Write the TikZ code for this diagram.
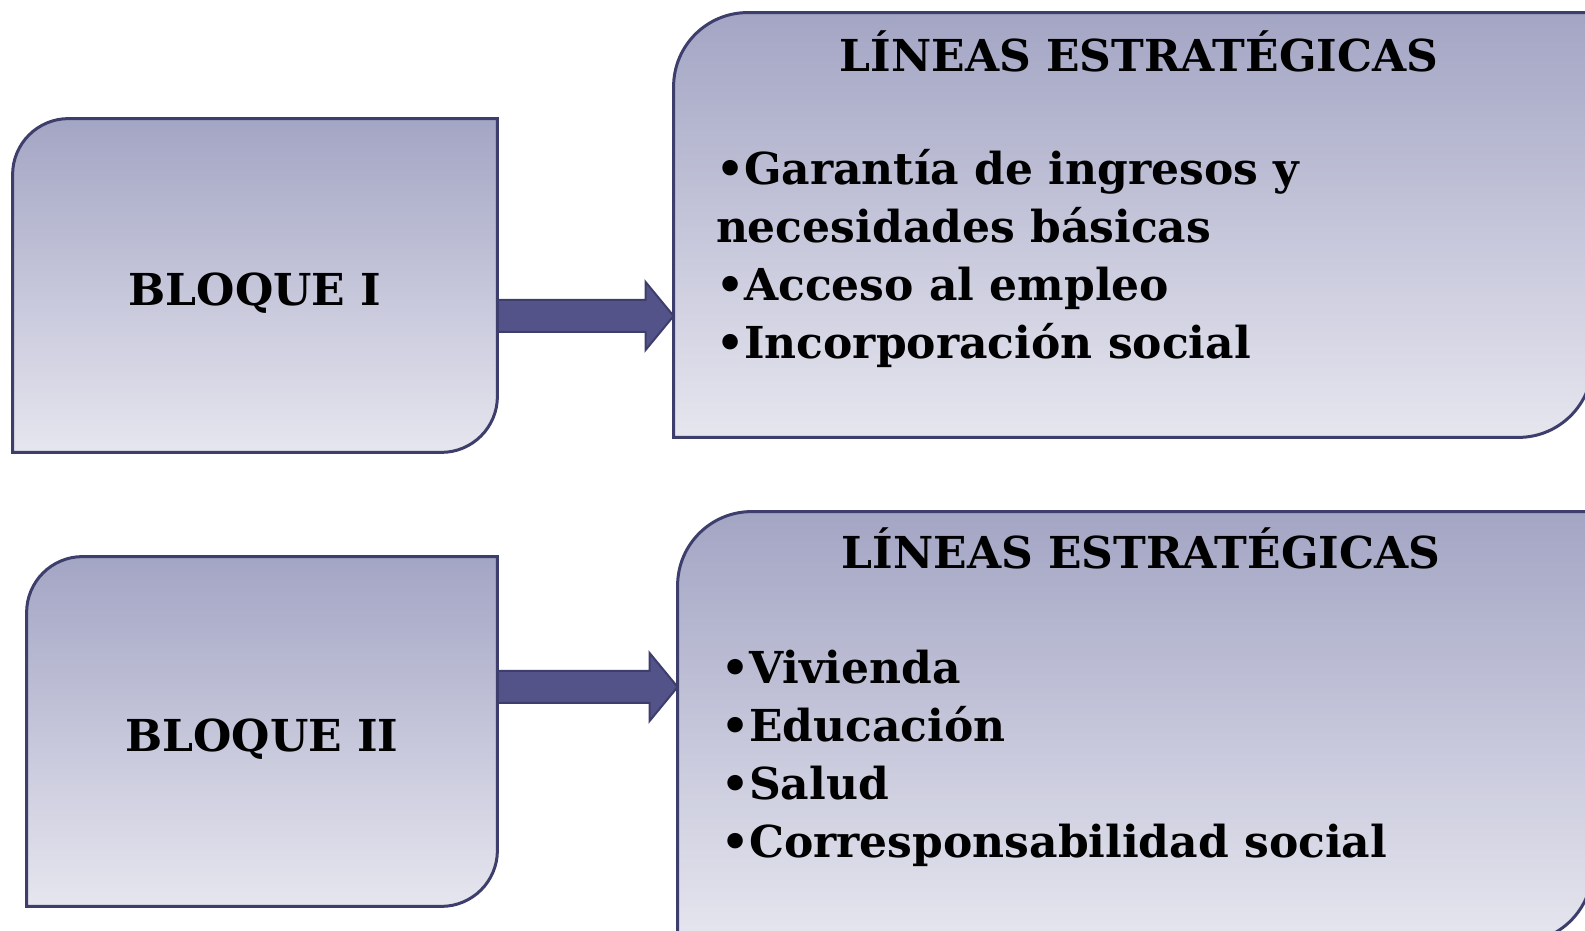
\documentclass[tikz,border=0pt]{standalone}
\usepackage{fontspec}
\setmainfont{DejaVu Serif}
\usetikzlibrary{calc,backgrounds}
\definecolor{cajatop}{HTML}{A3A5C4}
\definecolor{cajabot}{HTML}{E6E6EF}
\definecolor{cajaline}{HTML}{3E3E6C}
\definecolor{flechacolor}{HTML}{53538A}

\tikzset{
  caja/.style={inner sep=0pt},
  panel/.style={draw=cajaline, line width=1.5pt, top color=cajatop, bottom color=cajabot},
  flechaline/.style={draw=cajaline, line width=1pt, fill=flechacolor, line join=miter},
  etiqueta/.style={font=\fontsize{22}{29}\selectfont\bfseries, inner sep=0pt},
  lista/.style={etiqueta, align=left}
}
% box with two rounded corners: node name, radius
\newcommand{\caja}[2]{%
  \draw[panel] (#1.south west) -- ($(#1.north west)+(0,-#2)$) arc[start angle=180,end angle=90,radius=#2]
    -- (#1.north east) -- ($(#1.south east)+(0,#2)$) arc[start angle=0,end angle=-90,radius=#2] -- cycle;}
% block arrow: start, tip
\newcommand{\flecha}[2]{%
  \draw[flechaline] ($(#1)+(0,8pt)$) -- ($(#2)+(-14pt,8pt)$) -- ($(#2)+(-14pt,17pt)$) -- (#2)
    -- ($(#2)+(-14pt,-17pt)$) -- ($(#2)+(-14pt,-8pt)$) -- ($(#1)+(0,-8pt)$) -- cycle;}

\begin{document}
\begin{tikzpicture}[x=0.5pt,y=0.5pt]
  \useasboundingbox (0,0) rectangle (1585,931);
  % blocks
  \node[caja, minimum width=242pt, minimum height=166.5pt] (b1) at (255,645.5) {};
  \node[caja, minimum width=235pt, minimum height=174.5pt] (b2) at (262,199.5) {};
  \node[etiqueta, anchor=base] (e1) at ([yshift=-10.25pt]b1.center) {BLOQUE I};
  \node[etiqueta, anchor=base] (e2) at ([yshift=-10.25pt]b2.center) {BLOQUE II};
  % strategic lines
  \node[caja, minimum width=459pt, minimum height=212pt] (l1) at (1133,706) {};
  \node[caja, minimum width=457pt, minimum height=215pt] (l2) at (1135,204) {};
  \node[etiqueta, anchor=base] (t1) at ([xshift=3pt,yshift=-29.5pt]l1.north) {LÍNEAS ESTRATÉGICAS};
  \node[etiqueta, anchor=base] (t2) at ([xshift=3pt,yshift=-28.5pt]l2.north) {LÍNEAS ESTRATÉGICAS};
  % base anchor sits on the last line
  \node[lista, anchor=base west] (g1) at ([xshift=21pt,yshift=-173pt]l1.north west)
    {•Garantía de ingresos y\\necesidades básicas\\•Acceso al empleo\\•Incorporación social};
  \node[lista, anchor=base west] (g2) at ([xshift=21.5pt,yshift=-173pt]l2.north west)
    {•Vivienda\\•Educación\\•Salud\\•Corresponsabilidad social};
  % arrows
  \coordinate (s1) at ([yshift=-15.25pt]b1.east); \coordinate (p1) at (l1.west |- s1);
  \coordinate (s2) at ([yshift=22.25pt]b2.east); \coordinate (p2) at (l2.west |- s2);
  \begin{scope}[on background layer]
    \flecha{s1}{p1}
    \flecha{s2}{p2}
    \caja{b1}{28pt} \caja{b2}{28pt}
    \caja{l1}{37pt} \caja{l2}{37pt}
  \end{scope}
\end{tikzpicture}
\end{document}
